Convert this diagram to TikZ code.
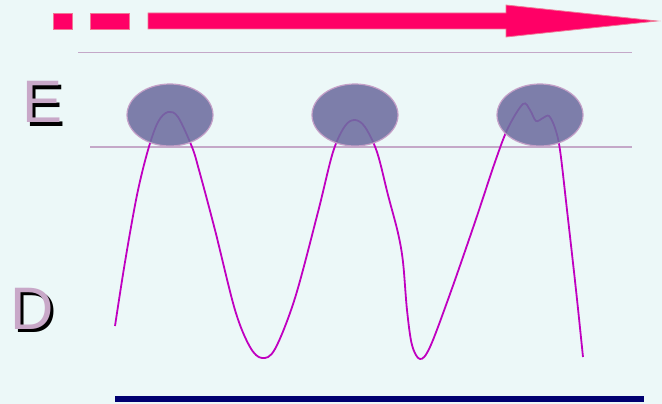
\documentclass[tikz,border=0pt]{standalone}
\usepackage{fontspec}
\setmainfont{Liberation Sans}
\usetikzlibrary{shapes.geometric}
\definecolor{bgc}{RGB}{236,248,248}
\definecolor{pinkc}{RGB}{255,0,102}
\definecolor{pinkedge}{RGB}{240,120,150}
\definecolor{linec}{RGB}{196,168,200}
\definecolor{ellfill}{RGB}{110,110,160}
\definecolor{ellline}{RGB}{196,160,200}
\definecolor{curvec}{RGB}{192,0,192}
\definecolor{navyc}{RGB}{0,0,112}
\definecolor{lblc}{RGB}{200,168,200}
\newcommand{\shadowtxt}[1]{\makebox[0pt][l]{\kern3pt\raisebox{-3pt}{\textcolor{black}{#1}}}\textcolor{lblc}{#1}}
\begin{document}
\begin{tikzpicture}[x=1pt,y=-1pt,
  guide/.style={draw=linec,line width=1.5pt},
  blob/.style={ellipse,draw=ellline,line width=1.2pt,fill=ellfill,fill opacity=0.88,minimum width=86pt,minimum height=62pt,inner sep=0pt},
  arrowpart/.style={fill=pinkc,draw=pinkedge,line width=0.8pt},
  lbl/.style={anchor=base west,inner sep=0pt,font=\fontsize{60}{60}\selectfont}]
\fill[bgc] (0,0) rectangle (662,404);
\useasboundingbox (0,0) rectangle (662,404);
% top arrow
\filldraw[arrowpart] (53,13) rectangle (72,29);
\filldraw[arrowpart] (90,13) rectangle (129,29);
\filldraw[arrowpart] (148,13) -- (506,13) -- (506,5) -- (657,21) -- (506,37) -- (506,29) -- (148,29) -- cycle;
% guide lines
\coordinate (g1a) at (78,52.5);
\coordinate (g1b) at (632,52.5);
\coordinate (g2a) at (90,147);
\coordinate (g2b) at (632,147);
\draw[guide] (g1a) -- (g1b);
\draw[guide] (g2a) -- (g2b);
% labels
\node[lbl] (E) at (22,123) {\shadowtxt{E}};
\node[lbl] (D) at (10,329) {\shadowtxt{D}};
% curve
\draw[curvec,line width=1.8pt] plot[smooth,tension=0.55] coordinates {
(115,326) (125,262) (137,195) (148,150) (158,122) (168,112) (178,117) (192,147) (199,170)
(215,230) (235,310) (250,347) (262,358) (275,349) (295,298) (318,212) (333,152) (345,126) (355,120) (365,127)
(377,152) (388,195) (398,233) (403,262) (407,310) (412,345) (420,359) (430,347) (450,294) (475,222) (495,162)
(508,128) (523,104) (530,110) (536,121) (543,118) (549,116) (555,128) (560,150) (567,210) (576,290) (583,357)};
% ellipses
\node[blob] (e1) at (170,115) {};
\node[blob] (e2) at (355,115) {};
\node[blob] (e3) at (540,115) {};
% bottom line
\coordinate (b1) at (115,398.5);
\coordinate (b2) at (644,398.5);
\draw[navyc,line width=6pt] (b1) -- (b2);
\end{tikzpicture}
\end{document}
